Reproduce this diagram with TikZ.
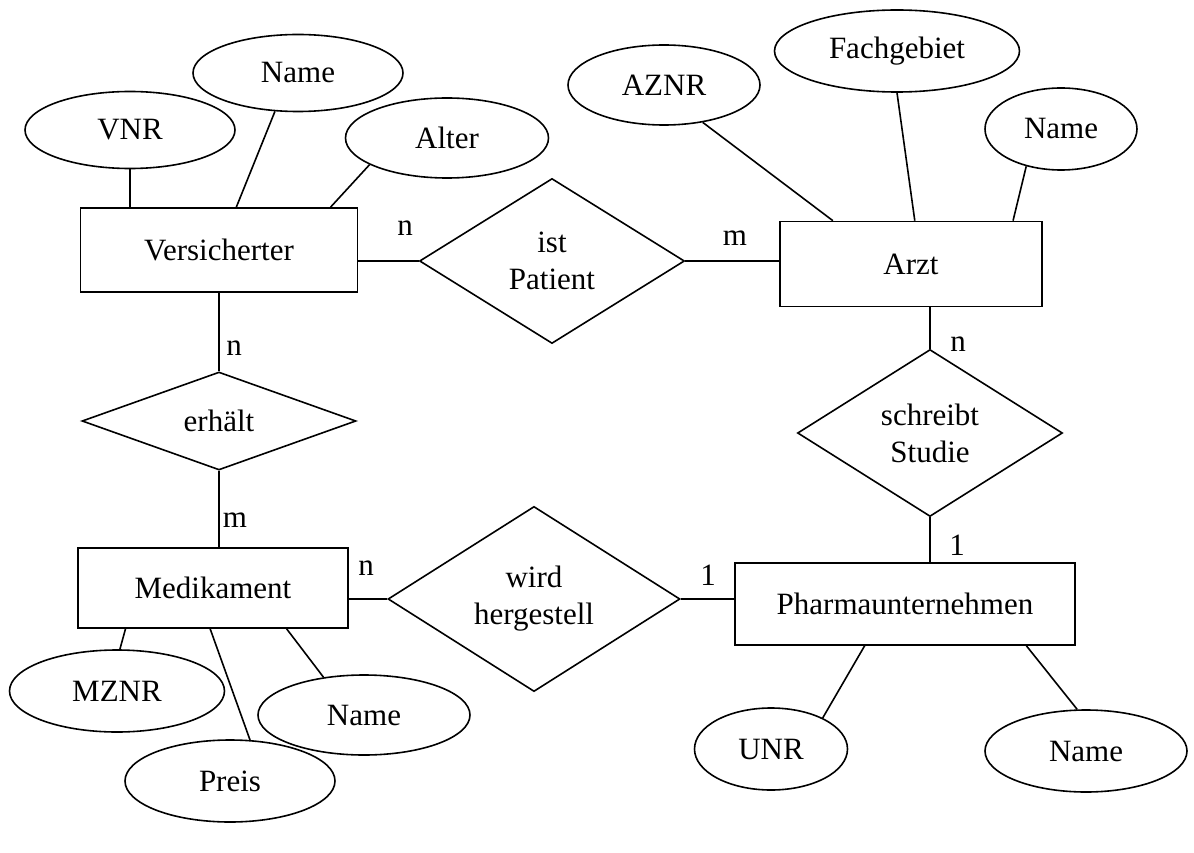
\documentclass[tikz,border=0pt]{standalone}
\usepackage{fontspec}
\setmainfont{Liberation Serif}
\usetikzlibrary{shapes.geometric}

\begin{document}
\begin{tikzpicture}[x=1pt, y=-1pt, line width=1.6pt,
    every node/.style={font=\fontsize{31}{37}\selectfont},
    entity/.style={draw, rectangle, inner sep=0pt},
    relation/.style={draw, diamond, inner sep=0pt, align=center},
    attr/.style={draw, ellipse, inner sep=0pt},
    card/.style={inner sep=0pt}]
    \useasboundingbox (0,0) rectangle (1194,853);

    \node[entity, minimum width=277pt, minimum height=84pt] (vers) at (219,250) {Versicherter};
    \node[entity, minimum width=262pt, minimum height=85pt] (arzt) at (911,264) {Arzt};
    \node[entity, minimum width=270pt, minimum height=80pt] (med) at (213,588) {Medikament};
    \node[entity, minimum width=340pt, minimum height=82pt] (pharma) at (905,604) {Pharmaunternehmen};

    \node[relation, minimum width=265pt, minimum height=165pt] (patient) at (552,261) {ist\\Patient};
    \node[relation, minimum width=274pt, minimum height=98pt] (erhaelt) at (219,421) {erhält};
    \node[relation, minimum width=265pt, minimum height=167pt] (studie) at (930,433) {schreibt\\Studie};
    \node[relation, minimum width=292pt, minimum height=178pt] (hergestellt) at (534,599) {wird\\hergestell};

    \node[attr, minimum width=210pt, minimum height=77pt] (vnr) at (130,130) {VNR};
    \node[attr, minimum width=210pt, minimum height=77pt] (vname) at (298,73) {Name};
    \node[attr, minimum width=203pt, minimum height=80pt] (alter) at (447,138) {Alter};
    \node[attr, minimum width=192pt, minimum height=80pt] (aznr) at (664,85) {AZNR};
    \node[attr, minimum width=245pt, minimum height=82pt] (fach) at (897,51) {Fachgebiet};
    \node[attr, minimum width=152pt, minimum height=82pt] (aname) at (1061,129) {Name};
    \node[attr, minimum width=215pt, minimum height=82pt] (mznr) at (117,691) {MZNR};
    \node[attr, minimum width=212pt, minimum height=80pt] (mname) at (364,715) {Name};
    \node[attr, minimum width=210pt, minimum height=82pt] (preis) at (230,781) {Preis};
    \node[attr, minimum width=153pt, minimum height=82pt] (unr) at (771,749) {UNR};
    \node[attr, minimum width=202pt, minimum height=82pt] (pname) at (1086,751) {Name};

    \draw (vnr.south) -- (vnr.south |- vers.north);
    \draw (vname.239) -- (vers.68);
    \draw (alter.199) -- (vers.21);
    \draw (aznr.316) -- (arzt.151);
    \draw (fach.south) -- (arzt.85);
    \draw (aname.227) -- (arzt.23);
    \draw (mznr.86) -- (med.205);
    \draw (preis.64) -- (med.266);
    \draw (mname.137) -- (med.331);
    \draw (unr.31) -- (pharma.226);
    \draw (pname.102) -- (pharma.341);

    \draw (vers.east |- patient.west) -- (patient.west);
    \draw (patient.east) -- (patient.east -| arzt.west);
    \draw (vers.south) -- (erhaelt.north);
    \draw (erhaelt.south) -- (erhaelt.south |- med.north);
    \draw (arzt.south -| studie.north) -- (studie.north);
    \draw (studie.south) -- (studie.south |- pharma.north);
    \draw (med.east |- hergestellt.west) -- (hergestellt.west);
    \draw (hergestellt.east) -- (hergestellt.east -| pharma.west);

    \node[card] (cvp) at (405,228) {n};
    \node[card] (cpa) at (735,238) {m};
    \node[card] (cve) at (234,348) {n};
    \node[card] (cem) at (235,520) {m};
    \node[card] (cas) at (958,344) {n};
    \node[card] (csp) at (957,545) {1};
    \node[card] (cmw) at (366,568) {n};
    \node[card] (cwp) at (708,575) {1};
\end{tikzpicture}
\end{document}
